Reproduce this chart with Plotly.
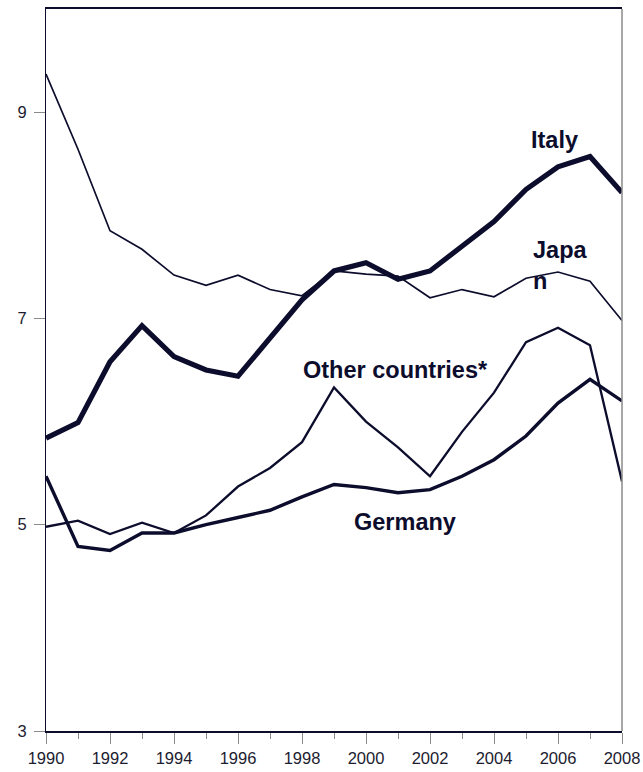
import plotly.graph_objects as go

INK = "#0c0c2c"
GREY = "#8a8a8a"

years = list(range(1990, 2009))

italy = [5.84, 5.99, 6.58, 6.93, 6.63, 6.50, 6.44, 6.81, 7.18, 7.46, 7.54, 7.38,
         7.46, 7.70, 7.94, 8.25, 8.47, 8.57, 8.22]
japan = [9.37, 8.64, 7.85, 7.67, 7.42, 7.32, 7.42, 7.28, 7.22, 7.46, 7.43, 7.41,
         7.20, 7.28, 7.21, 7.39, 7.45, 7.36, 6.98]
other = [4.98, 5.04, 4.91, 5.02, 4.92, 5.09, 5.37, 5.55, 5.80, 6.33, 6.00, 5.75,
         5.47, 5.90, 6.28, 6.77, 6.91, 6.74, 5.42]
germany = [5.47, 4.79, 4.75, 4.92, 4.92, 5.00, 5.07, 5.14, 5.27, 5.39, 5.36, 5.31,
           5.34, 5.47, 5.63, 5.86, 6.18, 6.41, 6.20]

series = [
    ("Japan", japan, 1.7),
    ("Other countries*", other, 2.3),
    ("Germany", germany, 3.4),
    ("Italy", italy, 5.2),
]

# label text, anchor year, anchor value
labels = [
    ("Italy", 2005.1, 8.73),
    ("Japa<br>n", 2005.15, 7.51),
    ("Other countries*", 1997.97, 6.50),
    ("Germany", 1999.55, 5.03),
]

fig = go.Figure()
for name, vals, width in series:
    fig.add_trace(go.Scatter(
        x=years, y=vals, mode="lines", name=name,
        line=dict(color=INK, width=width),
        cliponaxis=False,
    ))

for text, x, y in labels:
    fig.add_annotation(
        x=x, y=y, text=text, showarrow=False,
        xanchor="left", yanchor="middle", align="left",
        font=dict(family="Liberation Sans, Arial", size=23.5, color=INK,
                  weight="bold"),
    )

# grey right-hand border
fig.add_shape(type="line", xref="paper", yref="paper", x0=1, x1=1, y0=0, y1=1,
              line=dict(color=GREY, width=1.5))

fig.update_layout(
    width=643, height=772,
    margin=dict(l=46, r=21, t=9, b=41),
    paper_bgcolor="white", plot_bgcolor="white",
    showlegend=False,
    font=dict(family="Liberation Sans, Arial", size=16.5, color="#1c1c30"),
)
fig.update_xaxes(
    range=[1990, 2008], tickvals=list(range(1990, 2009, 2)),
    showgrid=False, zeroline=False, automargin=False,
    showline=True, linecolor=INK, linewidth=1.5, mirror=True,
    ticks="outside", ticklen=11, tickcolor=GREY, tickwidth=1,
    ticklabelstandoff=0,
    minor=dict(tickvals=list(range(1991, 2008, 2)), ticks="outside",
               ticklen=6, tickcolor=GREY, tickwidth=1, showgrid=False),
)
fig.update_yaxes(
    range=[3, 10], tickvals=[3, 5, 7, 9],
    showgrid=False, zeroline=False, automargin=False,
    showline=True, linecolor=INK, linewidth=1.2,
    ticks="outside", ticklen=11, tickcolor=GREY, tickwidth=1,
    ticklabelstandoff=4,
)

# drop the default body margin so the figure fills the window exactly
fig.write_html("out.html", config={"displayModeBar": False},
               post_script="document.body.style.margin='0';"
               "document.body.style.overflow='hidden';")
